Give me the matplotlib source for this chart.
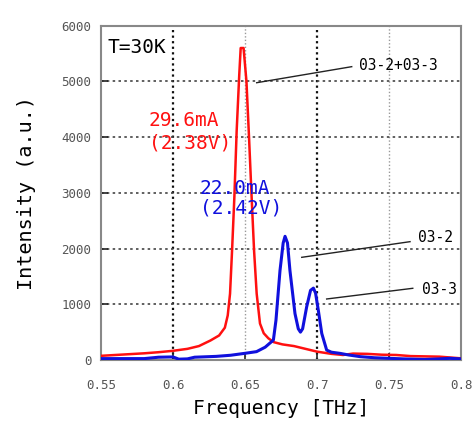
import matplotlib
matplotlib.use("Agg")
import matplotlib.pyplot as plt

# spectrum at 29.6 mA (red)
red_f = [0.550, 0.560, 0.570, 0.580, 0.590, 0.600, 0.610, 0.618, 0.626, 0.632,
         0.636, 0.638, 0.6396, 0.6410, 0.6426, 0.6442, 0.6460, 0.6470, 0.6490, 0.6510,
         0.6528, 0.6546, 0.6563, 0.6581, 0.6604, 0.6630, 0.6662, 0.670, 0.676, 0.684,
         0.692, 0.700, 0.710, 0.718, 0.725, 0.735, 0.745, 0.755, 0.765, 0.775,
         0.785, 0.795, 0.800]
red_i = [75, 90, 105, 120, 140, 165, 200, 250, 350, 440,
         580, 800, 1190, 1960, 2920, 4110, 5120, 5600, 5600, 5000,
         3990, 2920, 1960, 1190, 655, 480, 390, 320, 280, 250,
         200, 150, 110, 90, 115, 110, 95, 90, 70, 65,
         60, 40, 30]

# spectrum at 22.0 mA (blue)
blue_f = [0.550, 0.580, 0.590, 0.600, 0.604, 0.610, 0.615, 0.630, 0.640, 0.650,
          0.658, 0.664, 0.6697, 0.6715, 0.6743, 0.6765, 0.6778, 0.6795, 0.6812, 0.6847,
          0.6870, 0.6885, 0.6900, 0.6928, 0.6955, 0.6975, 0.6990, 0.7009, 0.7033, 0.7067,
          0.710, 0.716, 0.722, 0.730, 0.740, 0.750, 0.760, 0.775, 0.785, 0.792, 0.800]
blue_i = [25, 25, 50, 55, 15, 20, 50, 65, 85, 120,
          150, 230, 357, 714, 1607, 2100, 2220, 2100, 1607, 833,
          560, 500, 560, 952, 1250, 1290, 1200, 893, 476, 178,
          140, 119, 90, 60, 40, 30, 20, 10, 20, 30, 20]

xticks = [0.55, 0.6, 0.65, 0.7, 0.75, 0.8]
xticklabels = ["0.55", "0.6", "0.65", "0.7", "0.75", "0.8"]
yticks = [0, 1000, 2000, 3000, 4000, 5000, 6000]

# mode labels: (text, line start, line end, text position)
modes = [
    ("03-2+03-3", (0.6581, 4977), (0.7241, 5265), (0.7292, 5295)),
    ("03-2", (0.6894, 1843), (0.7646, 2124), (0.7701, 2190)),
    ("03-3", (0.7067, 1095), (0.7665, 1287), (0.7729, 1274)),
]

mono = "DejaVu Sans Mono"

fig = plt.figure(figsize=(4.74, 4.21), dpi=100)
ax = fig.add_axes([0.2131, 0.1449, 0.7595, 0.7940])

# grid: bold dotted at 0.6/0.7, faint at 0.65/0.75
for x in xticks[1:-1]:
    strong = abs((x * 100) % 10) < 1e-6
    ax.axvline(x, color="#111111" if strong else "#999999",
               lw=1.6 if strong else 1.0, ls=(0, (1, 1.5)), zorder=1)
for y in yticks[1:-1]:
    ax.axhline(y, color="#444444", lw=1.2, ls=(0, (1.5, 2)), zorder=1)

ax.plot(red_f, red_i, color="#ff1010", lw=1.8, zorder=3)
ax.plot(blue_f, blue_i, color="#1010dd", lw=2.2, zorder=4)

ax.set_xlim(0.55, 0.8)
ax.set_ylim(0, 6000)
ax.set_xticks(xticks)
ax.set_xticklabels(xticklabels)
ax.set_yticks(yticks)
ax.tick_params(direction="in", length=5, width=1.2, color="#222222",
               labelcolor="#555555", labelsize=9)
ax.tick_params(axis="x", pad=14)
ax.tick_params(axis="y", pad=7)
for lab in ax.get_xticklabels() + ax.get_yticklabels():
    lab.set_family(mono)

for s in ax.spines.values():
    s.set_color("#888888")
    s.set_linewidth(1.5)

ax.set_xlabel("Frequency [THz]", family=mono, fontsize=14, labelpad=5)
ax.set_ylabel("Intensity (a.u.)", family=mono, fontsize=14.5, labelpad=18)

ax.text(0.019, 0.936, "T=30K", transform=ax.transAxes, family=mono,
        fontsize=14, ha="left", va="center")
ax.text(0.5833, 4100, "29.6mA\n(2.38V)", color="#ff1010", family=mono,
        fontsize=14, ha="left", va="center", linespacing=1.2)
ax.text(0.6184, 2908, "22.0mA\n(2.42V)", color="#1010dd", family=mono,
        fontsize=14, ha="left", va="center", linespacing=1.05)

for name, p0, p1, pt in modes:
    ax.plot([p0[0], p1[0]], [p0[1], p1[1]], color="#222222", lw=1.0, zorder=5)
    ax.text(pt[0], pt[1], name, family=mono, fontsize=10.5,
            ha="left", va="center", zorder=6)

fig.savefig("out.png", dpi=100)
